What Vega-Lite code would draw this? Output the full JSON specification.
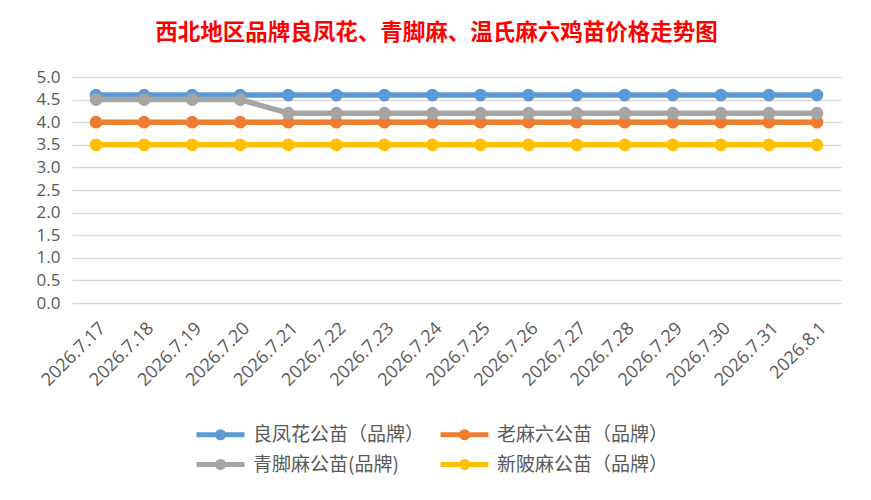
{
  "$schema": "https://vega.github.io/schema/vega-lite/v6.json",
  "width": 769,
  "height": 226,
  "autosize": "none",
  "padding": {"left": 72, "top": 77, "right": 30, "bottom": 197},
  "background": "white",
  "config": {"view": {"stroke": null}},
  "title": {
    "text": "西北地区品牌良凤花、青脚麻、温氏麻六鸡苗价格走势图",
    "color": "#FF0000",
    "font": "Noto Sans CJK SC",
    "fontSize": 22.5,
    "fontWeight": "bold",
    "anchor": "middle",
    "dx": -20,
    "offset": 24
  },
  "data": {
    "values": [
      {"date": "2026.7.17", "series": "良凤花公苗（品牌）", "price": 4.6},
      {"date": "2026.7.18", "series": "良凤花公苗（品牌）", "price": 4.6},
      {"date": "2026.7.19", "series": "良凤花公苗（品牌）", "price": 4.6},
      {"date": "2026.7.20", "series": "良凤花公苗（品牌）", "price": 4.6},
      {"date": "2026.7.21", "series": "良凤花公苗（品牌）", "price": 4.6},
      {"date": "2026.7.22", "series": "良凤花公苗（品牌）", "price": 4.6},
      {"date": "2026.7.23", "series": "良凤花公苗（品牌）", "price": 4.6},
      {"date": "2026.7.24", "series": "良凤花公苗（品牌）", "price": 4.6},
      {"date": "2026.7.25", "series": "良凤花公苗（品牌）", "price": 4.6},
      {"date": "2026.7.26", "series": "良凤花公苗（品牌）", "price": 4.6},
      {"date": "2026.7.27", "series": "良凤花公苗（品牌）", "price": 4.6},
      {"date": "2026.7.28", "series": "良凤花公苗（品牌）", "price": 4.6},
      {"date": "2026.7.29", "series": "良凤花公苗（品牌）", "price": 4.6},
      {"date": "2026.7.30", "series": "良凤花公苗（品牌）", "price": 4.6},
      {"date": "2026.7.31", "series": "良凤花公苗（品牌）", "price": 4.6},
      {"date": "2026.8.1", "series": "良凤花公苗（品牌）", "price": 4.6},
      {"date": "2026.7.17", "series": "老麻六公苗（品牌）", "price": 4.0},
      {"date": "2026.7.18", "series": "老麻六公苗（品牌）", "price": 4.0},
      {"date": "2026.7.19", "series": "老麻六公苗（品牌）", "price": 4.0},
      {"date": "2026.7.20", "series": "老麻六公苗（品牌）", "price": 4.0},
      {"date": "2026.7.21", "series": "老麻六公苗（品牌）", "price": 4.0},
      {"date": "2026.7.22", "series": "老麻六公苗（品牌）", "price": 4.0},
      {"date": "2026.7.23", "series": "老麻六公苗（品牌）", "price": 4.0},
      {"date": "2026.7.24", "series": "老麻六公苗（品牌）", "price": 4.0},
      {"date": "2026.7.25", "series": "老麻六公苗（品牌）", "price": 4.0},
      {"date": "2026.7.26", "series": "老麻六公苗（品牌）", "price": 4.0},
      {"date": "2026.7.27", "series": "老麻六公苗（品牌）", "price": 4.0},
      {"date": "2026.7.28", "series": "老麻六公苗（品牌）", "price": 4.0},
      {"date": "2026.7.29", "series": "老麻六公苗（品牌）", "price": 4.0},
      {"date": "2026.7.30", "series": "老麻六公苗（品牌）", "price": 4.0},
      {"date": "2026.7.31", "series": "老麻六公苗（品牌）", "price": 4.0},
      {"date": "2026.8.1", "series": "老麻六公苗（品牌）", "price": 4.0},
      {"date": "2026.7.17", "series": "青脚麻公苗(品牌)", "price": 4.5},
      {"date": "2026.7.18", "series": "青脚麻公苗(品牌)", "price": 4.5},
      {"date": "2026.7.19", "series": "青脚麻公苗(品牌)", "price": 4.5},
      {"date": "2026.7.20", "series": "青脚麻公苗(品牌)", "price": 4.5},
      {"date": "2026.7.21", "series": "青脚麻公苗(品牌)", "price": 4.2},
      {"date": "2026.7.22", "series": "青脚麻公苗(品牌)", "price": 4.2},
      {"date": "2026.7.23", "series": "青脚麻公苗(品牌)", "price": 4.2},
      {"date": "2026.7.24", "series": "青脚麻公苗(品牌)", "price": 4.2},
      {"date": "2026.7.25", "series": "青脚麻公苗(品牌)", "price": 4.2},
      {"date": "2026.7.26", "series": "青脚麻公苗(品牌)", "price": 4.2},
      {"date": "2026.7.27", "series": "青脚麻公苗(品牌)", "price": 4.2},
      {"date": "2026.7.28", "series": "青脚麻公苗(品牌)", "price": 4.2},
      {"date": "2026.7.29", "series": "青脚麻公苗(品牌)", "price": 4.2},
      {"date": "2026.7.30", "series": "青脚麻公苗(品牌)", "price": 4.2},
      {"date": "2026.7.31", "series": "青脚麻公苗(品牌)", "price": 4.2},
      {"date": "2026.8.1", "series": "青脚麻公苗(品牌)", "price": 4.2},
      {"date": "2026.7.17", "series": "新陂麻公苗（品牌）", "price": 3.5},
      {"date": "2026.7.18", "series": "新陂麻公苗（品牌）", "price": 3.5},
      {"date": "2026.7.19", "series": "新陂麻公苗（品牌）", "price": 3.5},
      {"date": "2026.7.20", "series": "新陂麻公苗（品牌）", "price": 3.5},
      {"date": "2026.7.21", "series": "新陂麻公苗（品牌）", "price": 3.5},
      {"date": "2026.7.22", "series": "新陂麻公苗（品牌）", "price": 3.5},
      {"date": "2026.7.23", "series": "新陂麻公苗（品牌）", "price": 3.5},
      {"date": "2026.7.24", "series": "新陂麻公苗（品牌）", "price": 3.5},
      {"date": "2026.7.25", "series": "新陂麻公苗（品牌）", "price": 3.5},
      {"date": "2026.7.26", "series": "新陂麻公苗（品牌）", "price": 3.5},
      {"date": "2026.7.27", "series": "新陂麻公苗（品牌）", "price": 3.5},
      {"date": "2026.7.28", "series": "新陂麻公苗（品牌）", "price": 3.5},
      {"date": "2026.7.29", "series": "新陂麻公苗（品牌）", "price": 3.5},
      {"date": "2026.7.30", "series": "新陂麻公苗（品牌）", "price": 3.5},
      {"date": "2026.7.31", "series": "新陂麻公苗（品牌）", "price": 3.5},
      {"date": "2026.8.1", "series": "新陂麻公苗（品牌）", "price": 3.5}
    ]
  },
  "mark": {
    "type": "line",
    "strokeWidth": 5.5,
    "point": {"filled": true, "size": 160, "opacity": 1}
  },
  "encoding": {
    "x": {
      "field": "date",
      "type": "ordinal",
      "sort": null,
      "scale": {"type": "point", "padding": 0.5},
      "axis": {
        "title": null,
        "labelAngle": -45,
        "labelFont": "Open Sans",
        "labelFontSize": 18,
        "labelColor": "#595959",
        "labelPadding": 16,
        "ticks": false,
        "domain": false,
        "grid": false
      }
    },
    "y": {
      "field": "price",
      "type": "quantitative",
      "scale": {"domain": [0, 5]},
      "axis": {
        "title": null,
        "values": [0, 0.5, 1, 1.5, 2, 2.5, 3, 3.5, 4, 4.5, 5],
        "format": ".1f",
        "labelFont": "Open Sans",
        "labelFontSize": 17,
        "labelColor": "#595959",
        "labelPadding": 12,
        "ticks": false,
        "domain": false,
        "gridColor": "#D9D9D9",
        "gridWidth": 1.5
      }
    },
    "color": {
      "field": "series",
      "type": "nominal",
      "scale": {
        "domain": ["良凤花公苗（品牌）", "老麻六公苗（品牌）", "青脚麻公苗(品牌)", "新陂麻公苗（品牌）"],
        "range": ["#5B9BD5", "#ED7D31", "#A5A5A5", "#FFC000"]
      },
      "legend": {
        "title": null,
        "orient": "none",
        "direction": "horizontal",
        "legendX": 134,
        "legendY": 343,
        "columns": 2,
        "columnPadding": 5,
        "rowPadding": 2,
        "labelFont": "Noto Sans CJK SC",
        "labelFontSize": 19,
        "labelLimit": 400,
        "labelColor": "#595959",
        "labelOffset": 18,
        "symbolType": "M-2,0H2M0.25,0A0.25,0.25,0,1,1,-0.25,0A0.25,0.25,0,1,1,0.25,0",
        "symbolSize": 576,
        "symbolStrokeWidth": 5,
        "symbolOpacity": 1,
        "encode": {
          "symbols": {
            "update": {
              "fill": {"scale": "color", "field": "value"},
              "stroke": {"scale": "color", "field": "value"}
            }
          }
        }
      }
    }
  }
}
